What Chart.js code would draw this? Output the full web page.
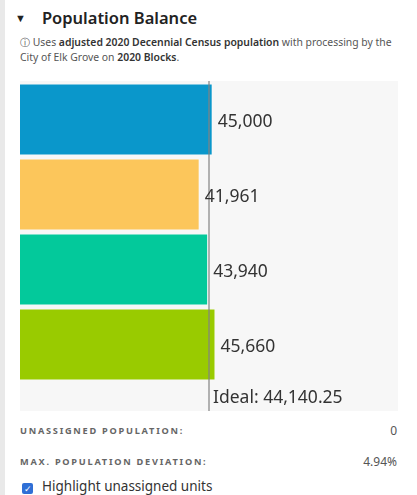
<!DOCTYPE html>
<html>
<head>
<meta charset="utf-8">
<script src="https://cdn.jsdelivr.net/npm/chart.js@4"></script>
<style>
  body { margin: 0; width: 417px; height: 495px; background: #fff; font-family: 'Noto Sans', sans-serif; position: relative; overflow: hidden; }
  #strip { position: absolute; left: 0; top: 0; width: 5px; height: 495px; background: #e9e9e9; }
  #title { position: absolute; left: 15px; top: 6px; font-size: 16.5px; font-weight: 600; color: #222; }
  #title .tri { font-size: 11px; margin-right: 16px; position: relative; top: -2px; }
  #note { position: absolute; left: 20px; top: 35px; width: 395px; font-size: 10.4px; line-height: 15px; color: #555; letter-spacing: 0px; white-space: nowrap; }
  #note b { color: #333; font-weight: 600; }
  #chartBox { position: absolute; left: 20px; top: 81px; width: 378px; height: 330px; background: #f7f7f7; }
  .stat { position: absolute; left: 20px; width: 377px; font-size: 9.2px; font-weight: 700; letter-spacing: 1.75px; color: #666; }
  .stat span { position: absolute; right: 0; letter-spacing: 0; font-weight: 400; font-size: 12px; color: #555; top: -2px; }
  #check { position: absolute; left: 22px; top: 477px; font-size: 13.5px; color: #333; }
  #check i { display: inline-block; width: 11px; height: 11px; background: #2f6fd6; border-radius: 2px; margin-right: 9px; vertical-align: -1px; color: #fff; font-size: 9px; line-height: 11px; text-align: center; font-style: normal; }
</style>
</head>
<body>
<div id="strip"></div>
<div id="title"><span class="tri">&#9660;</span>Population Balance</div>
<div id="note">&#9432; Uses <b>adjusted 2020 Decennial Census population</b> with processing by the<br>City of Elk Grove on <b>2020 Blocks</b>.</div>
<div id="chartBox"><canvas id="popChart"></canvas></div>
<div class="stat" style="top:424px">UNASSIGNED POPULATION:<span>0</span></div>
<div class="stat" style="top:455px">MAX. POPULATION DEVIATION:<span>4.94%</span></div>
<div id="check"><i>&#10003;</i>Highlight unassigned units</div>
<script>
const districts = ['1', '2', '3', '4'];
const population = [45000, 41961, 43940, 45660];
const districtColors = ['#0a97cb', '#fcc65b', '#03c99b', '#99cb00'];
const ideal = 44140.25;

function fmt(v) {
    return v.toLocaleString('en-US');
}

// ideal line + value labels
const labelPlugin = {
    id: 'labels',
    afterDatasetsDraw(chart) {
        const ctx = chart.ctx;
        const x = chart.scales.x;
        const area = chart.chartArea;
        const ix = x.getPixelForValue(ideal);

        ctx.save();
        ctx.strokeStyle = 'rgba(130,130,130,0.8)';
        ctx.lineWidth = 1.5;
        ctx.beginPath();
        ctx.moveTo(ix, 0);
        ctx.lineTo(ix, chart.height);
        ctx.stroke();

        ctx.fillStyle = '#333';
        ctx.font = '17.5px "Noto Sans"';
        ctx.textBaseline = 'middle';
        const meta = chart.getDatasetMeta(0);
        meta.data.forEach((bar, i) => {
            ctx.fillText(fmt(population[i]), bar.x + 5, bar.y + 3);
        });
        ctx.fillText('Ideal: ' + fmt(ideal), ix + 4, (area.bottom + chart.height) / 2 + 2);
        ctx.restore();
    }
};

new Chart(document.getElementById('popChart'), {
    type: 'bar',
    data: {
        labels: districts,
        datasets: [{
            data: population,
            backgroundColor: districtColors,
            borderColor: 'rgba(255,255,255,0.35)',
            borderWidth: 1,
            categoryPercentage: 1,
            barPercentage: 0.96
        }]
    },
    options: {
        indexAxis: 'y',
        responsive: true,
        maintainAspectRatio: false,
        animation: false,
        layout: { padding: { top: 1, bottom: 29 } },
        plugins: { legend: { display: false }, tooltip: { enabled: false } },
        scales: {
            x: { display: false, min: 0, max: ideal * 2 },
            y: { display: false }
        }
    },
    plugins: [labelPlugin]
});
</script>
</body>
</html>
